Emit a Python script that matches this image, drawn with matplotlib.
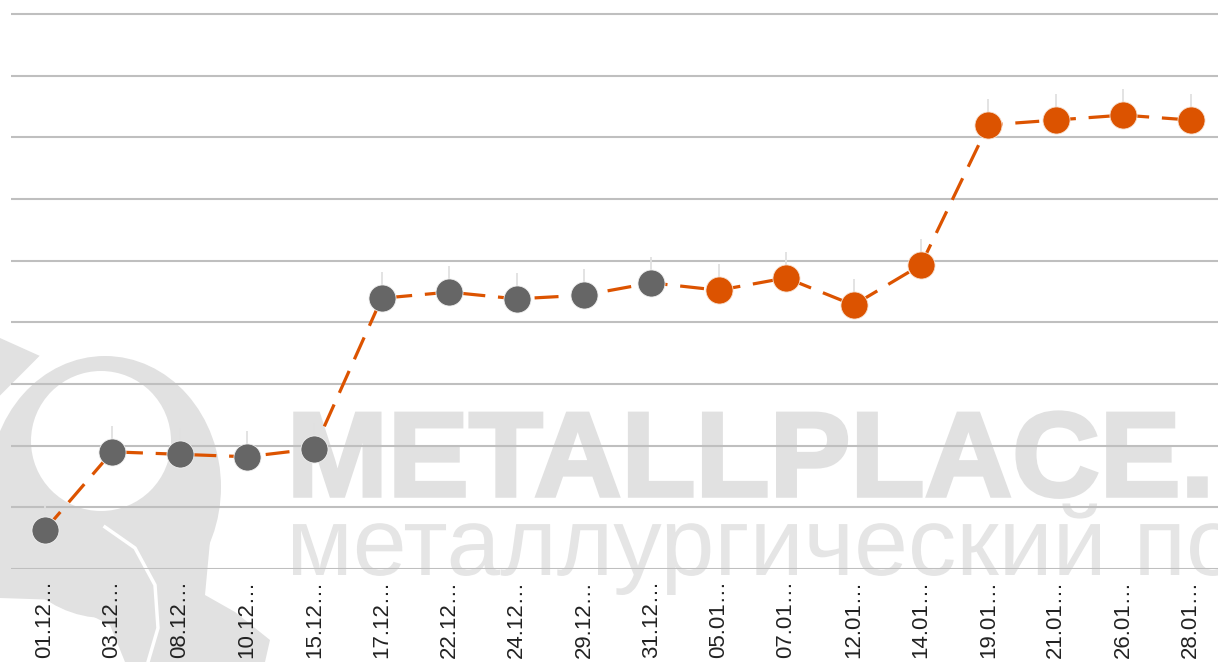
import matplotlib
matplotlib.use("Agg")
import matplotlib.pyplot as plt
from matplotlib.patches import Ellipse, Polygon, PathPatch
from matplotlib.textpath import TextPath
from matplotlib.font_manager import FontProperties
from matplotlib.transforms import Affine2D

# data (units = gridline steps, axis labels are hidden)
dates = ['01.12', '03.12', '08.12', '10.12', '15.12', '17.12', '22.12', '24.12', '29.12',
         '31.12', '05.01', '07.01', '12.01', '14.01', '19.01', '21.01', '26.01', '28.01']
values = [0.63, 1.90, 1.86, 1.82, 1.95, 4.39, 4.49, 4.38, 4.44,
          4.64, 4.52, 4.72, 4.28, 4.93, 7.20, 7.28, 7.36, 7.28]
n_grey = 10   # first points (December) grey, the rest orange

orange = '#dc5300'
grey = '#666666'
wm = '#e1e1e1'

plt.rcParams['font.family'] = ['Liberation Sans', 'DejaVu Sans']

W, H = 1218, 662
fig = plt.figure(figsize=(W / 100, H / 100), dpi=100)

# background watermark, drawn in pixel coords (y down)
bg = fig.add_axes([0, 0, 1, 1], zorder=0)
bg.set_xlim(0, W)
bg.set_ylim(H, 0)
bg.axis('off')


def squeezed_text(ax, s, measure, x0, base, height, width, ref_h, bold=False, color=wm, edge=0):
    # text as a path, stretched so that `measure` is `width` px wide and ref_h -> height px
    fp = FontProperties(family='Liberation Sans', weight='bold' if bold else 'normal')
    tp = TextPath((0, 0), s, size=1, prop=fp)
    m = TextPath((0, 0), measure, size=1, prop=fp).get_extents()
    sx = width / (m.x1 - m.x0)
    sy = height / ref_h
    tr = Affine2D().translate(-m.x0, 0).scale(sx, -sy).translate(x0, base)
    ax.add_patch(PathPatch(tr.transform_path(tp), fc=color, ec=color, lw=edge))


# logo
bg.add_patch(Ellipse((105, 487), 232, 262, color=wm, lw=0))
bg.add_patch(Polygon([[0, 338], [40, 356], [0, 398]], color=wm, lw=0))
bg.add_patch(Polygon([[0, 470], [0, 598], [60, 600], [110, 625], [125, 662], [265, 662],
                      [270, 640], [235, 612], [205, 595], [212, 520]], color=wm, lw=0))
bg.add_patch(Ellipse((101, 441), 140, 140, color='white', lw=0))
bg.plot([44, 0], [354, 398], color='white', lw=2.5)
bg.plot([105, 135, 155, 158, 148], [527, 548, 585, 628, 662], color='white', lw=2.5)

squeezed_text(bg, 'METALLPLACE.RU', 'METALLPLACE.', 295, 496, 86, 911, 0.716, bold=True, edge=2.5)
squeezed_text(bg, 'металлургический портал', 'металлургический', 293, 575, 50, 807, 0.519,
              color='#e5e5e5')

# main chart
step = 61.67
ax = fig.add_axes([11 / W, 1 - 569 / H, (W - 11) / W, 569 / H], zorder=1)
ax.patch.set_alpha(0)
x = list(range(len(dates)))

ax.set_xlim(-0.5, -0.5 + (W - 11) / 67.4)
ax.set_ylim(0, 569 / step)
ax.set_yticks(range(0, 10))
ax.yaxis.grid(True, color='#bfbfbf', lw=1.5)
ax.set_axisbelow(True)
ax.tick_params(axis='y', left=False, labelleft=False)
ax.tick_params(axis='x', length=0, pad=8, labelsize=16, labelcolor='#222222')
ax.set_xticks(x)
ax.set_xticklabels([d + '…' for d in dates], rotation=90, va='top')
for s in ax.spines.values():
    s.set_visible(False)

# light leader lines above points
ax.vlines(x, values, [v + 0.42 for v in values], color='#e0e0e0', lw=1.3, zorder=2)

ax.plot(x, values, color=orange, lw=2.3, dashes=(7.5, 4), zorder=3)
ax.plot(x[:n_grey], values[:n_grey], 'o', ms=19.5, color=grey, mec='#f0f0f0', mew=0.6, zorder=4)
ax.plot(x[n_grey:], values[n_grey:], 'o', ms=19.5, color=orange, mec='#f6e0d0', mew=0.6, zorder=4)

fig.savefig('out.png', dpi=100)
